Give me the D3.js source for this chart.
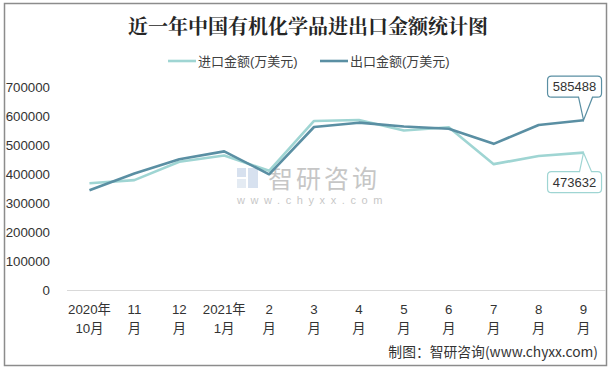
<!DOCTYPE html>
<html><head><meta charset="utf-8">
<script src="https://cdn.jsdelivr.net/npm/d3@7"></script>
<style>body{margin:0;background:#fff}svg{display:block}</style>
</head><body><svg id="c" width="613" height="371"></svg>
<script>
const categories = [["2020年","10月"],["11","月"],["12","月"],["2021年","1月"],["2","月"],["3","月"],["4","月"],["5","月"],["6","月"],["7","月"],["8","月"],["9","月"]];
const importValues = [368000, 379000, 442000, 464000, 411000, 583000, 586000, 550000, 561000, 434000, 462000, 473632];
const exportValues = [344000, 402000, 451000, 478000, 399000, 562000, 577000, 564000, 556000, 504000, 569000, 585488];
const yTicks = [0,100000,200000,300000,400000,500000,600000,700000];
const seriesNames = ["进口金额(万美元)","出口金额(万美元)"];
const colors = ["#9fd5d3","#5a8fa3"];

const svg = d3.select("#c");
const font = "'Liberation Sans', Arial, 'Noto Sans CJK SC', sans-serif";
svg.append("rect").attr("x",4.5).attr("y",3.5).attr("width",602).attr("height",362).attr("fill","#fff").attr("stroke","#8c8c8c").attr("stroke-width",1.5);

svg.append("text").attr("x",308).attr("y",34).attr("text-anchor","middle")
  .attr("font-family","'Noto Serif CJK SC','Noto Sans CJK SC',serif").attr("font-weight","bold").attr("font-size",20).attr("fill","#262626")
  .text("近一年中国有机化学品进出口金额统计图");

const x = d3.scaleBand().domain(d3.range(categories.length)).range([67,606]);
const y = d3.scaleLinear().domain([0,700000]).range([290,87]);

// watermark
const wm = svg.append("g").attr("opacity",0.55);
wm.append("rect").attr("x",237).attr("y",168).attr("width",9).attr("height",9).attr("fill","#b7c9e2");
wm.append("rect").attr("x",248).attr("y",168).attr("width",10).attr("height",20).attr("fill","#b7c9e2");
wm.append("rect").attr("x",237).attr("y",179).attr("width",9).attr("height",9).attr("fill","#cfdbeb");
wm.append("text").attr("x",268).attr("y",188).attr("font-family","'Noto Sans CJK SC'").attr("font-size",25).attr("fill","#999").attr("letter-spacing",3).text("智研咨询");
wm.append("text").attr("x",237).attr("y",204).attr("font-family",font).attr("font-size",11).attr("fill","#999").attr("letter-spacing",5.6).text("www.chyxx.com");

// y axis labels
svg.append("g").selectAll("text").data(yTicks).join("text")
  .attr("x",50).attr("y",d=>y(d)+5).attr("text-anchor","end")
  .attr("font-family",font).attr("font-size",13.3).attr("fill","#333").text(d=>d);

// x axis line
svg.append("line").attr("x1",67).attr("x2",606).attr("y1",290.5).attr("y2",290.5).attr("stroke","#d9d9d9").attr("stroke-width",1);

// x labels
const xl = svg.append("g").selectAll("text").data(categories).join("text")
  .attr("text-anchor","middle").attr("font-family",font).attr("font-size",13.3).attr("fill","#333");
xl.append("tspan").attr("x",(d,i)=>x(i)+x.bandwidth()/2).attr("y",314).text(d=>d[0]);
xl.append("tspan").attr("x",(d,i)=>x(i)+x.bandwidth()/2).attr("y",333).text(d=>d[1]);

const line = d3.line().x((d,i)=>x(i)+x.bandwidth()/2).y(d=>y(d));
[importValues, exportValues].forEach((vals,k)=>{
  svg.append("path").attr("d",line(vals)).attr("fill","none").attr("stroke",colors[k]).attr("stroke-width",2.6).attr("stroke-linejoin","round");
});

// legend
const legX = [168,320];
seriesNames.forEach((n,k)=>{
  svg.append("line").attr("x1",legX[k]).attr("x2",legX[k]+28).attr("y1",61).attr("y2",61).attr("stroke",colors[k]).attr("stroke-width",2.6);
  svg.append("text").attr("x",legX[k]+30).attr("y",66).attr("font-family",font).attr("font-size",13).attr("fill","#404040").text(n);
});

// callouts
function callout(val, color, above){
  const i = categories.length-1;
  const px = x(i)+x.bandwidth()/2, py = y(val);
  const bx = px-36, bw = 54, bh = 21;
  const by = above ? py-44 : py+19;
  const g = svg.append("g");
  let p;
  if (above){
    const e = by+bh;
    p = `M${bx+4},${by} H${bx+bw-4} Q${bx+bw},${by} ${bx+bw},${by+4} V${e-4} Q${bx+bw},${e} ${bx+bw-4},${e} H${px+9} L${px},${py} L${px-5},${e} H${bx+4} Q${bx},${e} ${bx},${e-4} V${by+4} Q${bx},${by} ${bx+4},${by} Z`;
  } else {
    const e = by+bh;
    p = `M${bx+4},${by} H${px-4} L${px},${py} L${px+8},${by} H${bx+bw-4} Q${bx+bw},${by} ${bx+bw},${by+4} V${e-4} Q${bx+bw},${e} ${bx+bw-4},${e} H${bx+4} Q${bx},${e} ${bx},${e-4} V${by+4} Q${bx},${by} ${bx+4},${by} Z`;
  }
  g.append("path").attr("d",p).attr("fill","#fff").attr("stroke",color).attr("stroke-width",1.2);
  g.append("text").attr("x",bx+bw/2).attr("y",by+15).attr("text-anchor","middle").attr("font-family",font).attr("font-size",13).attr("fill","#333").text(val);
}
callout(exportValues[exportValues.length-1], colors[1], true);
callout(importValues[importValues.length-1], colors[0], false);

svg.append("text").attr("x",598).attr("y",357).attr("text-anchor","end").attr("font-family","'Noto Sans CJK SC', sans-serif").attr("font-size",13.8).attr("fill","#333").text("制图：智研咨询(www.chyxx.com)");
</script></body></html>
